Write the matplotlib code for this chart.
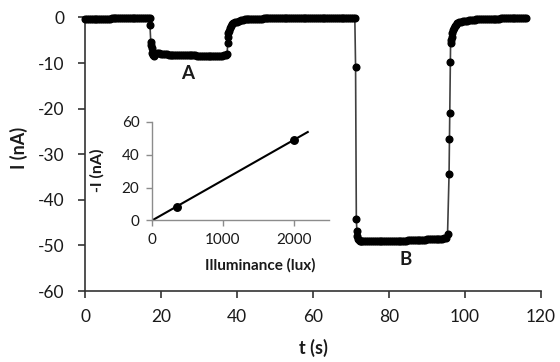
import matplotlib.pyplot as plt

plt.rcParams['font.family'] = ['Lato', 'DejaVu Sans']
plt.rcParams['axes.unicode_minus'] = False

# photocurrent trace, t in s, I in nA
t_s = [
    0.0, 0.5, 1.0, 1.5, 2.0, 2.5, 3.0, 3.5, 4.0, 4.5,
    5.0, 5.5, 6.0, 6.5, 7.0, 7.5, 8.0, 8.5, 9.0, 9.5,
    10.0, 10.5, 11.0, 11.5, 12.0, 12.5, 13.0, 13.5, 14.0, 14.5,
    15.0, 15.5, 16.0, 16.5, 17.0,
    17.1, 17.3, 17.45, 17.6, 17.75, 17.9, 18.05,
    18.5, 19.0, 19.5, 20.0, 20.5, 21.0, 21.5, 22.0, 22.5, 23.0,
    23.5, 24.0, 24.5, 25.0, 25.5, 26.0, 26.5, 27.0, 27.5, 28.0,
    28.5, 29.0, 29.5, 30.0, 30.5, 31.0, 31.5, 32.0, 32.5, 33.0,
    33.5, 34.0, 34.5, 35.0, 35.5, 36.0, 36.5, 37.0, 37.4,
    37.55, 37.65, 37.75, 37.9, 38.1, 38.4, 38.7, 39.0, 39.5, 40.0,
    40.5, 41.0, 41.5, 42.0, 42.5, 43.0, 43.5, 44.0, 44.5, 45.0,
    45.5, 46.0, 46.5, 47.0, 47.5, 48.0, 48.5, 49.0, 49.5, 50.0,
    50.5, 51.0, 51.5, 52.0, 52.5, 53.0, 53.5, 54.0, 54.5, 55.0,
    55.5, 56.0, 56.5, 57.0, 57.5, 58.0, 58.5, 59.0, 59.5, 60.0,
    60.5, 61.0, 61.5, 62.0, 62.5, 63.0, 63.5, 64.0, 64.5, 65.0,
    65.5, 66.0, 66.5, 67.0, 67.5, 68.0, 68.5, 69.0, 69.5, 70.0,
    70.5, 71.0,
    71.2, 71.4, 71.55, 71.7, 71.85, 72.0, 72.3,
    72.5, 73.0, 73.5, 74.0, 74.5, 75.0, 75.5, 76.0, 76.5, 77.0,
    77.5, 78.0, 78.5, 79.0, 79.5, 80.0, 80.5, 81.0, 81.5, 82.0,
    82.5, 83.0, 83.5, 84.0, 84.5, 85.0, 85.5, 86.0, 86.5, 87.0,
    87.5, 88.0, 88.5, 89.0, 89.5, 90.0, 90.5, 91.0, 91.5, 92.0,
    92.5, 93.0, 93.5, 94.0, 94.5, 95.0, 95.4,
    95.8, 95.9, 96.0, 96.1, 96.2, 96.3, 96.45, 96.6, 96.8, 97.0,
    97.3, 97.6, 98.0, 98.5, 99.0, 99.5, 100.0, 100.5, 101.0, 101.5,
    102.0, 102.5, 103.0, 103.5, 104.0, 104.5, 105.0, 105.5, 106.0, 106.5,
    107.0, 107.5, 108.0, 108.5, 109.0, 109.5, 110.0, 110.5, 111.0, 111.5,
    112.0, 112.5, 113.0, 113.5, 114.0, 114.5, 115.0, 115.5, 116.0,
]
current_nA = [
    -0.40, -0.38, -0.36, -0.35, -0.33, -0.32, -0.31, -0.30, -0.29, -0.28,
    -0.27, -0.26, -0.25, -0.24, -0.23, -0.22, -0.21, -0.21, -0.20, -0.19,
    -0.19, -0.18, -0.18, -0.17, -0.17, -0.16, -0.16, -0.15, -0.15, -0.14,
    -0.14, -0.13, -0.13, -0.12, -0.12,
    -1.7, -5.3, -6.0, -6.8, -7.7, -8.3, -8.5,
    -8.1, -7.9, -7.9, -8.0, -8.0, -8.1, -8.1, -8.2, -8.2, -8.2,
    -8.2, -8.2, -8.3, -8.3, -8.3, -8.3, -8.3, -8.3, -8.3, -8.3,
    -8.3, -8.3, -8.4, -8.4, -8.4, -8.4, -8.4, -8.4, -8.4, -8.4,
    -8.4, -8.4, -8.5, -8.5, -8.4, -8.4, -8.3, -8.2, -8.0,
    -5.7, -4.2, -3.5, -2.9, -2.4, -1.9, -1.5, -1.3, -1.1, -0.9,
    -0.75, -0.62, -0.52, -0.45, -0.40, -0.36, -0.33, -0.31, -0.29, -0.27,
    -0.26, -0.25, -0.24, -0.23, -0.22, -0.21, -0.20, -0.19, -0.18, -0.18,
    -0.17, -0.16, -0.16, -0.15, -0.15, -0.14, -0.14, -0.13, -0.13, -0.12,
    -0.12, -0.11, -0.11, -0.10, -0.10, -0.10, -0.09, -0.09, -0.09, -0.08,
    -0.08, -0.08, -0.07, -0.07, -0.07, -0.06, -0.06, -0.06, -0.05, -0.05,
    -0.05, -0.05, -0.04, -0.04, -0.04, -0.04, -0.03, -0.03, -0.03, -0.03,
    -0.02, -0.02,
    -10.8, -44.3, -46.8, -48.0, -48.6, -48.9, -49.1,
    -49.1, -49.1, -49.1, -49.1, -49.1, -49.1, -49.1, -49.1, -49.1, -49.1,
    -49.1, -49.1, -49.1, -49.0, -49.0, -49.0, -49.0, -49.0, -49.0, -49.0,
    -49.0, -49.0, -49.0, -49.0, -49.0, -48.9, -48.9, -48.9, -48.9, -48.9,
    -48.9, -48.8, -48.8, -48.8, -48.8, -48.7, -48.7, -48.7, -48.6, -48.6,
    -48.6, -48.5, -48.5, -48.5, -48.4, -48.3, -47.6,
    -34.4, -26.7, -20.9, -9.7, -5.7, -5.0, -4.3, -3.5, -2.8, -2.3,
    -1.9, -1.6, -1.3, -1.1, -0.95, -0.85, -0.75, -0.68, -0.62, -0.57,
    -0.53, -0.49, -0.45, -0.42, -0.39, -0.37, -0.35, -0.33, -0.31, -0.29,
    -0.28, -0.27, -0.26, -0.25, -0.24, -0.23, -0.22, -0.21, -0.21, -0.20,
    -0.20, -0.19, -0.19, -0.18, -0.18, -0.17, -0.17, -0.17, -0.16,
]

# inset calibration
illuminance_lux = [350, 2000]
current_abs_nA = [8.5, 49.0]
fit_lux = [0, 2200]
fit_slope = 0.0245  # nA per lux

text_col = '#1a1a1a'

fig = plt.figure(figsize=(5.6, 3.62), dpi=100)
ax = fig.add_axes([0.1518, 0.1961, 0.8143, 0.7558])

ax.plot(t_s, current_nA, color='#404040', lw=1.2, marker='o', ms=4.8,
        mfc='black', mec='black', clip_on=False, zorder=3)

ax.set_xlim(0, 120)
ax.set_ylim(-60, 0)
ax.set_xticks(range(0, 121, 20))
ax.set_yticks(range(-60, 1, 10))
ax.set_yticklabels([str(v) for v in range(-60, 1, 10)])
for s in ['top', 'right']:
    ax.spines[s].set_visible(False)
for s in ['left', 'bottom']:
    ax.spines[s].set_color('#333333')
    ax.spines[s].set_linewidth(1.2)
ax.tick_params(direction='out', length=5, width=1.2, color='#333333',
               labelsize=12.5, labelcolor=text_col)
ax.tick_params(axis='y', pad=10)
ax.tick_params(axis='x', pad=8)

ax.set_xlabel('t (s)', fontsize=13, fontweight='bold', color=text_col, va='center')
ax.xaxis.set_label_coords(0.5, -0.208)
ax.set_ylabel('I (nA)', fontsize=13, fontweight='bold', color=text_col, va='center')
ax.yaxis.set_label_coords(-0.145, 0.523)

ax.text(27.1, -12.3, 'A', fontsize=13.5, fontweight='bold', color=text_col,
        ha='center', va='center')
ax.text(84.4, -53.0, 'B', fontsize=13.5, fontweight='bold', color=text_col,
        ha='center', va='center')

# inset
ins = fig.add_axes([0.2714, 0.3909, 0.3161, 0.2721])
ins.plot(fit_lux, [fit_slope * v for v in fit_lux], color='black', lw=1.5, zorder=2)
ins.plot(illuminance_lux, current_abs_nA, 'o', color='black', ms=5.4, zorder=3,
         clip_on=False)
ins.set_xlim(0, 2500)
ins.set_ylim(0, 60)
ins.set_xticks([0, 1000, 2000])
ins.set_yticks([0, 20, 40, 60])
ins.patch.set_alpha(0)
for s in ['top', 'right']:
    ins.spines[s].set_visible(False)
for s in ['left', 'bottom']:
    ins.spines[s].set_color('#8c8c8c')
    ins.spines[s].set_linewidth(1.0)
ins.tick_params(direction='out', length=4, width=1.0, color='#8c8c8c',
                labelsize=11, labelcolor=text_col, pad=5)
ins.set_xlabel('Illuminance (lux)', fontsize=11, fontweight='bold',
               color=text_col, va='center')
ins.xaxis.set_label_coords(0.61, -0.452)
ins.set_ylabel('-I (nA)', fontsize=11.5, fontweight='bold', color=text_col,
               va='center')
ins.yaxis.set_label_coords(-0.309, 0.506)

fig.savefig('out.png', dpi=100)
